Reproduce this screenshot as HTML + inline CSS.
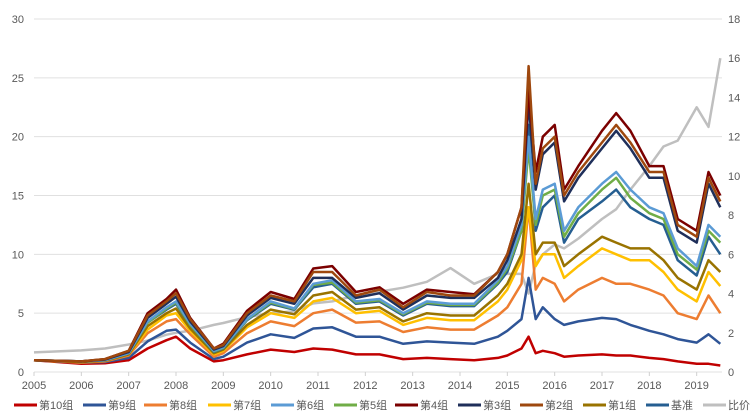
<!DOCTYPE html>
<html><head><meta charset="utf-8"><style>
body{margin:0;background:#fff;}
svg{display:block;font-family:"Liberation Sans","Noto Sans CJK SC",sans-serif;}
</style></head><body>
<svg id="chart" width="750" height="414"></svg>
<script>
const dates=[2005,2006,2006.5,2007,2007.4,2007.8,2008.0,2008.3,2008.8,2009.0,2009.5,2010.0,2010.5,2010.9,2011.3,2011.8,2012.3,2012.8,2013.3,2013.8,2014.3,2014.8,2015.0,2015.3,2015.45,2015.6,2015.75,2016.0,2016.2,2016.5,2017.0,2017.3,2017.6,2018.0,2018.3,2018.6,2019.0,2019.25,2019.5];
const g10=[1,0.7,0.75,1,2,2.7,3,2,0.9,1,1.5,1.9,1.7,2,1.9,1.5,1.5,1.1,1.2,1.1,1,1.2,1.4,2,3,1.6,1.8,1.6,1.3,1.4,1.5,1.4,1.4,1.2,1.1,0.9,0.7,0.7,0.55];
const g9=[1,0.8,0.85,1.2,2.6,3.5,3.6,2.5,1.1,1.3,2.5,3.2,2.9,3.7,3.8,3,3,2.4,2.6,2.5,2.4,3,3.5,4.5,8,4.5,5.5,4.5,4,4.3,4.6,4.5,4,3.5,3.2,2.8,2.5,3.2,2.4];
const g8=[1,0.8,0.9,1.4,3.3,4.3,4.5,3.2,1.3,1.6,3.3,4.3,3.9,5,5.3,4.2,4.3,3.4,3.8,3.6,3.6,4.8,5.5,7.5,14,7,8,7.5,6,7,8,7.5,7.5,7,6.5,5,4.5,6.5,5];
const g7=[1,0.85,0.95,1.5,3.6,4.8,5,3.5,1.5,1.8,3.8,5,4.6,6,6.3,5,5.2,4,4.6,4.4,4.4,6,7,9.5,14,9,10,10,8,9,10.5,10,9.5,9.5,8.5,7,6,8.5,7.3];
const g6=[1,0.9,1,1.6,4.3,5.5,6,4.1,1.8,2.1,4.5,6,5.4,7.5,7.8,6,6.2,5,6,5.8,5.8,7.8,9,12.5,20,13,15.5,16,12,14,16,17,15.5,14,13.5,10.5,9,12.5,11.5];
const g5=[1,0.9,1,1.6,4.2,5.4,5.9,4,1.75,2.05,4.45,5.9,5.35,7.4,7.6,5.9,6.1,4.9,5.9,5.7,5.7,7.6,8.8,12,19,12.5,15,15.5,11.5,13.5,15.5,16.5,14.8,13.5,13,10,8.7,12,11];
const g4=[1,0.9,1.1,1.8,5,6.2,7,4.6,2,2.4,5.2,6.8,6.2,8.8,9,6.8,7.2,5.8,7,6.8,6.6,8.5,10,14,24,17,20,21,15.5,17.5,20.5,22,20.5,17.5,17.5,13,12,17,15];
const g3=[1,0.9,1.05,1.7,4.6,5.8,6.4,4.3,1.9,2.2,4.8,6.3,5.8,8,8,6.3,6.7,5.3,6.5,6.3,6.3,8,9.5,13,23,15.5,18.5,19.5,14.5,16.5,19,20.5,19,16.5,16.5,12,11,16,14];
const g2=[1,0.9,1.1,1.8,4.8,6,6.7,4.5,2,2.3,5,6.5,6,8.5,8.5,6.5,7,5.5,6.8,6.5,6.5,8.5,10,14,26,16,19,20,15,17,19.5,21,19.5,17,17,12.5,11.5,16.5,14.5];
const g1=[1,0.85,0.95,1.5,3.9,5,5.4,3.7,1.6,1.9,4,5.3,4.9,6.5,6.8,5.3,5.5,4.3,5,4.8,4.8,6.5,7.5,10,16,10,11,11,9,10,11.5,11,10.5,10.5,9.5,8,7,9.5,8.5];
const bench=[1,0.9,1,1.6,4.2,5.3,5.8,4,1.7,2,4.4,5.8,5.3,7.2,7.5,5.8,6,4.8,5.8,5.6,5.6,7.5,8.5,12,21,12,14,15,11,13,14.5,15.5,14,13,12.5,9.5,8.2,11.5,10];
const ratio=[1,1.1,1.2,1.4,1.6,1.9,2,2.1,2.4,2.5,2.8,3,3.1,3.5,3.6,3.9,4.1,4.3,4.6,5.3,4.5,5,5,5,4,5.5,6,6.5,6.3,6.8,7.8,8.3,9.3,10.5,11.5,11.8,13.5,12.5,16];
const leftTicks=[0,5,10,15,20,25,30];
const rightTicks=[0,2,4,6,8,10,12,14,16,18];
const yearTicks=[2005,2006,2007,2008,2009,2010,2011,2012,2013,2014,2015,2016,2017,2018,2019];
const seriesNames=["第10组","第9组","第8组","第7组","第6组","第5组","第4组","第3组","第2组","第1组","基准","比价"];
const seriesColors=["#c00000","#2f5597","#ed7d31","#ffc000","#5b9bd5","#70ad47","#7b0000","#1f2f5a","#9e480e","#997300","#255e91","#bfbfbf"];

const NS="http://www.w3.org/2000/svg";
const svg=document.getElementById('chart');
const X0=34,X1=722,Y0=372,Y30=19;
function xs(d){return X0+(d-2005)*(176-34)/3;}
function yl(v){return Y0-(v/30)*(Y0-Y30);}
function yr(v){return Y0-(v/18)*(Y0-Y30);}
function mk(tag,attrs){const e=document.createElementNS(NS,tag);for(const k in attrs)e.setAttribute(k,attrs[k]);svg.appendChild(e);return e;}
leftTicks.forEach(t=>{
  const g=mk('line',{x1:X0,x2:X1,y1:yl(t),y2:yl(t),stroke:'#e0e0e0','stroke-width':1});
  
  
  const tx=mk('text',{x:24,y:yl(t)+4,'text-anchor':'end','font-size':11,fill:'#595959'});
  tx.textContent=t;
  
  
});
rightTicks.forEach(t=>{
  const tx=mk('text',{x:728,y:yr(t)+4,'text-anchor':'start','font-size':11,fill:'#595959'});
  tx.textContent=t;
  
  
});
yearTicks.forEach(t=>{
  const tk=mk('line',{x1:xs(t),x2:xs(t),y1:Y0,y2:Y0+4,stroke:'#d0d0d0'});
  
  
  const tx=mk('text',{x:xs(t),y:389,'text-anchor':'middle','font-size':11,fill:'#595959'});
  tx.textContent=t;
  
  
});
const all=[g10,g9,g8,g7,g6,g5,g4,g3,g2,g1,bench];
const order=[11,0,1,2,3,9,10,5,4,7,6,8];
order.forEach(i=>{
  let pts;
  if(i===11) pts=dates.map((d,j)=>xs(d).toFixed(1)+','+yr(ratio[j]).toFixed(1));
  else pts=dates.map((d,j)=>xs(d).toFixed(1)+','+yl(all[i][j]).toFixed(1));
  const p=mk('polyline',{points:pts.join(' '),fill:'none',stroke:seriesColors[i],'stroke-width':2.5,'stroke-linejoin':'round'});
  
  
});
const legendX=[14,83,144,208,271,334,395,458,520,583,646,703];
seriesNames.forEach((n,i)=>{
  const lx=legendX[i];
  const l=mk('line',{x1:lx,x2:lx+23,y1:405,y2:405,stroke:seriesColors[i],'stroke-width':3});
  
  
  const t=mk('text',{x:lx+25,y:409,'font-size':11,fill:'#595959'});
  t.textContent=n;
  
  
});
</script>
</body></html>
